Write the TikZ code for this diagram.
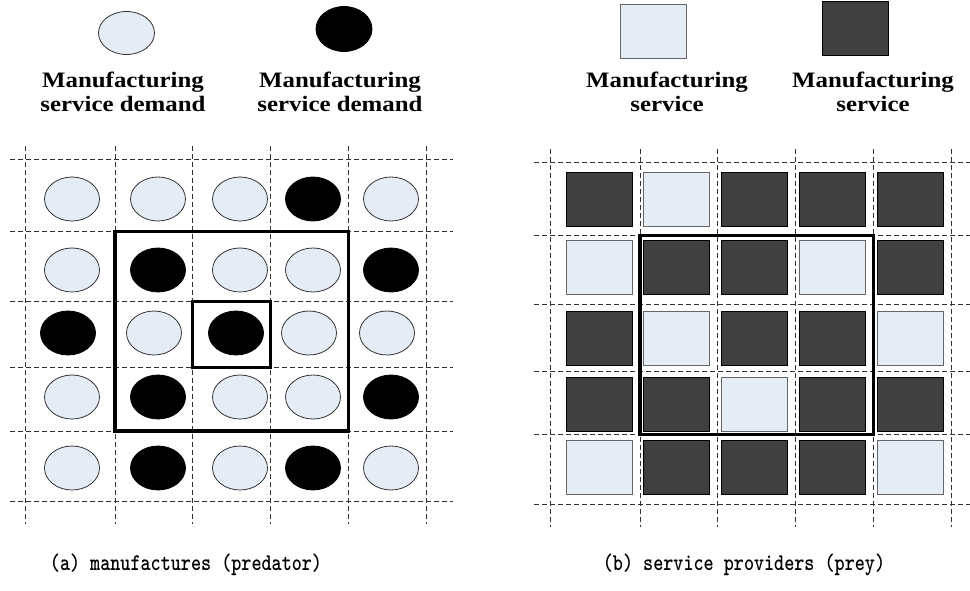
\documentclass[tikz,border=0pt]{standalone}
\usepackage{fontspec}
\usetikzlibrary{shapes.geometric}
\newfontfamily\legfont{Liberation Serif}[FakeStretch=1.13]
\definecolor{lightfill}{HTML}{E6ECF6}
\definecolor{darkfill}{HTML}{404040}
\newcommand\captxt[1]{\scalebox{0.8}[1]{\ttfamily\bfseries\fontsize{24}{26}\selectfont #1}}
\tikzset{
  wcell/.style={ellipse, draw=black!80, line width=0.8pt, fill=lightfill, minimum width=55pt, minimum height=44pt, inner sep=0pt},
  bcell/.style={ellipse, draw=black, line width=0.8pt, fill=black, minimum width=55pt, minimum height=44pt, inner sep=0pt},
  lcell/.style={rectangle, draw=black!60, line width=1pt, fill=lightfill, minimum width=66pt, minimum height=54pt, inner sep=0pt},
  dcell/.style={rectangle, draw=black, line width=1pt, fill=darkfill, minimum width=66pt, minimum height=54pt, inner sep=0pt},
  gridline/.style={draw=black!80, line width=1pt, dash pattern=on 5pt off 3pt},
  frame/.style={draw=black, line width=3.2pt},
  legtext/.style={align=center, inner sep=0pt, font=\legfont\bfseries\fontsize{22}{24.5}\selectfont},
  captext/.style={inner sep=0pt}
}
\begin{document}
\begin{tikzpicture}[x=1pt, y=-1pt]
\useasboundingbox (0,0) rectangle (970,590);
% ---------- legend ----------
\node[wcell, minimum width=56pt, minimum height=43pt] (legw) at (126.5,33) {};
\node[bcell, minimum width=56pt, minimum height=45pt] (legb) at (344,29) {};
\node[lcell] (legl) at (653.5,31.3) {};
\node[dcell] (legd) at (855.7,28) {};
\node[legtext] (tw) at (123,92) {Manufacturing\\service demand};
\node[legtext] (tb) at (340,92) {Manufacturing\\service demand};
\node[legtext] (tl) at (667,92) {Manufacturing\\service};
\node[legtext] (td) at (873,92) {Manufacturing\\service};
% ---------- left grid ----------
\foreach \x in {25.7,115,192.7,270.7,348.3,426}
  \draw[gridline] (\x,146) -- (\x,524);
\foreach \y in {159,231.7,301.7,367.7,431,501}
  \draw[gridline] (10,\y) -- (453,\y);
\def\lcols{{72,158,240,313,391}}
\foreach \yy/\dx/\pat [count=\r] in {199/0/{wcell,wcell,wcell,bcell,wcell},
    270/0/{wcell,bcell,wcell,wcell,bcell},
    333/-4/{bcell,wcell,bcell,wcell,wcell},
    397/0/{wcell,bcell,wcell,wcell,bcell},
    468/0/{wcell,bcell,wcell,bcell,wcell}}{
  \foreach \s [count=\c] in \pat {
    \pgfmathsetmacro\xx{\lcols[\c-1]+\dx}
    \node[\s] (L\r\c) at (\xx,\yy) {};
  }
}
\draw[frame] (115,231.7) rectangle (348.3,431);
\draw[frame] (192.7,301.7) rectangle (270.7,367.7);
% ---------- right grid ----------
\foreach \x in {550.7,640,717.7,795.7,873.3,951}
  \draw[gridline] (\x,149) -- (\x,527);
\foreach \y in {162.7,235.3,304.3,371.3,434.3,504}
  \draw[gridline] (534,\y) -- (972,\y);
\def\rcols{{599,676.5,754.5,832.5,910}}
\foreach \yy/\pat [count=\r] in {199/{dcell,lcell,dcell,dcell,dcell},
    267/{lcell,dcell,dcell,lcell,dcell},
    338/{dcell,lcell,dcell,dcell,lcell},
    404.5/{dcell,dcell,lcell,dcell,dcell},
    467.5/{lcell,dcell,dcell,dcell,lcell}}{
  \foreach \s [count=\c] in \pat {
    \pgfmathsetmacro\xx{\rcols[\c-1]}
    \node[\s] (R\r\c) at (\xx,\yy) {};
  }
}
\draw[frame] (640,235.3) rectangle (873.3,434.3);
% ---------- captions ----------
\node[captext] (ca) at (186,565) {\captxt{(a) manufactures (predator)}};
\node[captext] (cb) at (744,565) {\captxt{(b) service providers (prey)}};
\end{tikzpicture}
\end{document}
